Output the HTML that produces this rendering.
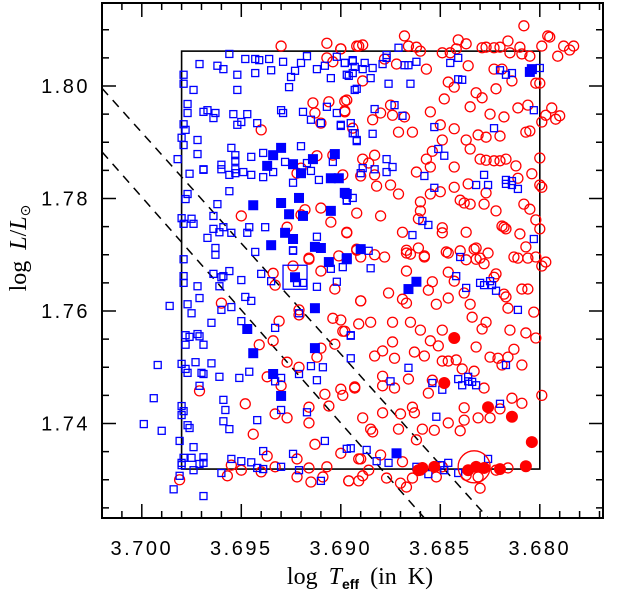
<!DOCTYPE html>
<html><head><meta charset="utf-8"><style>
html,body{margin:0;padding:0;background:#fff;}
svg{display:block;}
</style></head><body>
<svg id="chart" width="622" height="590" viewBox="0 0 622 590" xmlns="http://www.w3.org/2000/svg">
<g id="marks"></g>
<g id="axes"></g>
<text x="360" y="584" text-anchor="middle" font-family="'Liberation Serif', serif" font-size="24" word-spacing="5">log <tspan font-style="italic">T</tspan><tspan font-family="'Liberation Sans', sans-serif" font-weight="bold" font-size="14" dy="5">eff</tspan><tspan dy="-5"> (in K)</tspan></text>
<text transform="translate(26,248) rotate(-90)" text-anchor="middle" font-family="'Liberation Serif', serif" font-size="24" word-spacing="5">log <tspan font-style="italic">L</tspan>/<tspan font-style="italic">L</tspan><tspan font-size="14" dy="4">⊙</tspan></text>
</svg>
<script>
const xTicksMajor = [3.700, 3.695, 3.690, 3.685, 3.680];
const xTickLabels = ["3.700","3.695","3.690","3.685","3.680"];
const yTicksMajor = [1.80, 1.78, 1.76, 1.74];
const yTickLabels = ["1.80","1.78","1.76","1.74"];
const boxT = [3.6980, 3.6800];
const boxL = [1.7319, 1.8062];
const dashA = [[3.702, 1.7996],[3.6826, 1.7232]];
const dashB = [[3.702, 1.7883],[3.6858, 1.7232]];
const bigSquare = [3.6923, 1.7660];
const bigCircle = [3.6833, 1.7323];

const openBlue = [
[3.6956,1.8057],[3.6971,1.8039],[3.6962,1.8036],[3.6959,1.8030],[3.6948,1.8048],[3.6943,1.8048],[3.6941,1.8046],[3.6936,1.8048],[3.6935,1.8028],[3.6943,1.8023],
[3.6929,1.8043],[3.6923,1.8027],[3.6920,1.8041],[3.6917,1.8053],[3.6912,1.8030],[3.6908,1.8036],[3.6905,1.8014],[3.6902,1.8052],[3.6898,1.8041],[3.6897,1.8020],
[3.6894,1.8046],[3.6979,1.8020],[3.6979,1.8004],[3.6974,1.7993],[3.6952,1.8020],[3.6952,1.7993],[3.6926,1.7998],[3.6925,1.8016],[3.6893,1.7993],[3.6977,1.7968],
[3.6977,1.7952],[3.6969,1.7954],[3.6967,1.7957],[3.6963,1.7952],[3.6964,1.7943],[3.6954,1.7950],[3.6950,1.7936],[3.6952,1.7931],[3.6947,1.7950],[3.6942,1.7934],
[3.6930,1.7957],[3.6929,1.7952],[3.6919,1.7954],[3.6915,1.7940],[3.6910,1.7934],[3.6907,1.7963],[3.6902,1.7952],[3.6900,1.7929],[3.6893,1.7916],[3.6892,1.7902],
[3.6979,1.7932],[3.6978,1.7922],[3.6980,1.7908],[3.6979,1.7895],[3.6972,1.7904],[3.6982,1.7870],[3.6972,1.7879],[3.6955,1.7890],[3.6953,1.7877],[3.6953,1.7867],
[3.6960,1.7860],[3.6960,1.7852],[3.6953,1.7852],[3.6953,1.7845],[3.6945,1.7874],[3.6939,1.7881],[3.6928,1.7865],[3.6920,1.7893],[3.6917,1.7863],[3.6915,1.7849],
[3.6904,1.7865],[3.6969,1.7852],[3.6969,1.7851],[3.6976,1.7844],[3.6956,1.7842],[3.6949,1.7847],[3.6945,1.7842],[3.6939,1.7838],[3.6934,1.7847],[3.6924,1.7828],
[3.6911,1.7833],[3.6956,1.7813],[3.6977,1.7808],[3.6978,1.7799],[3.6962,1.7790],[3.6980,1.7765],[3.6975,1.7764],[3.6979,1.7755],[3.6974,1.7755],[3.6964,1.7769],
[3.6964,1.7746],[3.6961,1.7740],[3.6967,1.7730],[3.6959,1.7749],[3.6955,1.7739],[3.6947,1.7739],[3.6946,1.7749],[3.6938,1.7749],[3.6912,1.7732],[3.6924,1.7708],
[3.6943,1.7705],[3.6963,1.7712],[3.6963,1.7700],[3.6897,1.7797],
[3.6871,1.8068],[3.6877,1.8055],[3.6877,1.8050],[3.6898,1.8041],[3.6894,1.8044],[3.6888,1.8041],[3.6893,1.8034],[3.6889,1.8030],[3.6884,1.8032],[3.6879,1.8039],
[3.6868,1.8037],[3.6866,1.8037],[3.6862,1.8043],[3.6845,1.8041],[3.6841,1.8050],[3.6896,1.8018],[3.6894,1.8023],[3.6885,1.8014],[3.6876,1.8004],[3.6865,1.8004],
[3.6892,1.7995],[3.6841,1.8012],[3.6839,1.8011],[3.6820,1.8028],[3.6817,1.8020],[3.6814,1.8023],[3.6800,1.8032],[3.6883,1.7959],[3.6873,1.7966],[3.6869,1.7947],
[3.6895,1.7934],[3.6900,1.7931],[3.6894,1.7916],[3.6892,1.7904],[3.6884,1.7915],[3.6853,1.7927],[3.6823,1.7925],[3.6803,1.7957],[3.6851,1.7888],[3.6848,1.7876],
[3.6877,1.7870],[3.6874,1.7856],[3.6889,1.7854],[3.6883,1.7852],[3.6877,1.7847],[3.6890,1.7845],[3.6858,1.7840],[3.6828,1.7842],[3.6832,1.7824],[3.6826,1.7824],
[3.6817,1.7833],[3.6817,1.7826],[3.6814,1.7831],[3.6814,1.7824],[3.6811,1.7817],[3.6853,1.7819],[3.6897,1.7796],[3.6894,1.7801],[3.6859,1.7760],[3.6856,1.7753],
[3.6864,1.7735],[3.6803,1.7728],[3.6886,1.7707],[3.6840,1.7696],
[3.6924,1.7707],[3.6979,1.7692],[3.6979,1.7662],[3.6979,1.7650],[3.6964,1.7666],[3.6960,1.7660],[3.6959,1.7662],[3.6956,1.7671],[3.6961,1.7644],[3.6950,1.7655],
[3.6940,1.7666],[3.6935,1.7653],[3.6922,1.7650],[3.6919,1.7650],[3.6912,1.7643],[3.6905,1.7675],[3.6902,1.7652],[3.6899,1.7678],[3.6972,1.7644],[3.6977,1.7612],
[3.6975,1.7596],[3.6971,1.7623],[3.6986,1.7609],[3.6960,1.7602],[3.6955,1.7607],[3.6948,1.7625],[3.6945,1.7618],[3.6965,1.7579],[3.6950,1.7582],[3.6933,1.7570],
[3.6921,1.7596],[3.6978,1.7557],[3.6976,1.7554],[3.6972,1.7559],[3.6971,1.7555],[3.6978,1.7540],[3.6969,1.7540],[3.6895,1.7557],[3.6895,1.7516],[3.6992,1.7504],
[3.6980,1.7506],[3.6978,1.7497],[3.6977,1.7490],[3.6973,1.7509],[3.6970,1.7490],[3.6969,1.7488],[3.6965,1.7507],[3.6961,1.7483],[3.6951,1.7481],[3.6946,1.7492],
[3.6933,1.7475],[3.6930,1.7481],[3.6921,1.7488],[3.6915,1.7502],[3.6909,1.7500],[3.6912,1.7477],[3.6971,1.7467],[3.6994,1.7445],[3.6959,1.7442],[3.6958,1.7424],
[3.6959,1.7404],[3.6956,1.7390],[3.6942,1.7406],[3.6930,1.7424],[3.6917,1.7420],[3.6980,1.7431],[3.6979,1.7422],[3.6980,1.7415],[3.6977,1.7397],[3.6976,1.7392],
[3.6999,1.7399],[3.6990,1.7387],[3.6981,1.7369],[3.6974,1.7358],[3.6908,1.7369],[3.6897,1.7355],[3.6895,1.7356],[3.6939,1.7351],[3.6924,1.7346],[3.6979,1.7339],
[3.6975,1.7339],[3.6969,1.7340],[3.6969,1.7330],[3.6971,1.7328],[3.6980,1.7330],[3.6955,1.7337],[3.6950,1.7333],[3.6945,1.7331],[3.6980,1.7326],[3.6974,1.7317],
[3.6942,1.7321],[3.6939,1.7319],[3.6930,1.7323],[3.6921,1.7317],[3.6960,1.7312],[3.6981,1.7307],[3.6984,1.7283],[3.6969,1.7271],[3.6910,1.7298],
[3.6885,1.7676],[3.6842,1.7662],[3.6837,1.7641],[3.6830,1.7650],[3.6828,1.7646],[3.6825,1.7653],[3.6824,1.7646],[3.6822,1.7636],[3.6811,1.7602],[3.6895,1.7556],
[3.6866,1.7499],[3.6875,1.7475],[3.6854,1.7472],[3.6849,1.7460],[3.6841,1.7479],[3.6836,1.7483],[3.6836,1.7475],[3.6839,1.7468],[3.6834,1.7474],[3.6832,1.7468],
[3.6817,1.7504],[3.6820,1.7435],[3.6852,1.7412],[3.6887,1.7353],[3.6882,1.7333],[3.6876,1.7330],[3.6862,1.7323],[3.6856,1.7310],[3.6850,1.7326],[3.6846,1.7330],
[3.6848,1.7317],[3.6841,1.7312],[3.6826,1.7337]
];
const filledBlue = [
[3.6930,1.7890],[3.6934,1.7877],[3.6937,1.7858],[3.6924,1.7861],[3.6920,1.7845],[3.6914,1.7870],[3.6903,1.7879],[3.6905,1.7836],[3.6901,1.7836],[3.6897,1.7808],
[3.6921,1.7801],[3.6930,1.7792],[3.6944,1.7788],[3.6926,1.7772],[3.6919,1.7769],[3.6905,1.7778],[3.6928,1.7739],[3.6924,1.7728],[3.6935,1.7717],[3.6913,1.7714],
[3.6910,1.7712],[3.6897,1.7694],[3.6804,1.8030],[3.6805,1.8025],[3.6898,1.7810],[3.6890,1.7710],[3.6923,1.7660],[3.6906,1.7687],[3.6897,1.7692],[3.6913,1.7605],
[3.6947,1.7568],[3.6913,1.7534],[3.6944,1.7525],[3.6934,1.7488],[3.6930,1.7449],[3.6866,1.7639],[3.6862,1.7652],[3.6872,1.7347]
];
const openRed = [
[3.6930,1.8071],[3.6907,1.8076],[3.6900,1.8066],[3.6892,1.8071],[3.6904,1.8043],[3.6907,1.8050],[3.6914,1.7970],[3.6906,1.7972],[3.6898,1.7973],[3.6898,1.7954],
[3.6913,1.7952],[3.6910,1.7934],[3.6894,1.7925],[3.6940,1.7922],[3.6912,1.7876],[3.6904,1.7877],[3.6922,1.7845],[3.6920,1.7854],[3.6899,1.7842],[3.6918,1.7780],
[3.6920,1.7771],[3.6910,1.7783],[3.6905,1.7758],[3.6892,1.7774],[3.6950,1.7769],[3.6927,1.7749],[3.6897,1.7739],[3.6916,1.7694],[3.6901,1.7698],[3.6892,1.7708],
[3.6808,1.8107],[3.6868,1.8089],[3.6796,1.8089],[3.6795,1.8087],[3.6841,1.8082],[3.6837,1.8075],[3.6816,1.8080],[3.6866,1.8071],[3.6862,1.8069],[3.6860,1.8062],
[3.6891,1.8071],[3.6889,1.8073],[3.6900,1.8066],[3.6842,1.8066],[3.6849,1.8059],[3.6845,1.8059],[3.6829,1.8068],[3.6827,1.8069],[3.6823,1.8068],[3.6820,1.8069],
[3.6815,1.8059],[3.6810,1.8069],[3.6809,1.8057],[3.6799,1.8071],[3.6788,1.8071],[3.6785,1.8064],[3.6783,1.8071],[3.6791,1.8053],[3.6805,1.8053],[3.6878,1.8048],
[3.6872,1.8039],[3.6857,1.8030],[3.6836,1.8036],[3.6823,1.8030],[3.6819,1.8030],[3.6814,1.8009],[3.6802,1.8005],[3.6800,1.8005],[3.6889,1.8009],[3.6846,1.8007],
[3.6843,1.7998],[3.6822,1.7995],[3.6897,1.7975],[3.6848,1.7977],[3.6832,1.7988],[3.6829,1.7979],[3.6875,1.7966],[3.6880,1.7952],[3.6874,1.7948],[3.6868,1.7945],
[3.6898,1.7956],[3.6855,1.7954],[3.6835,1.7963],[3.6825,1.7950],[3.6818,1.7945],[3.6811,1.7961],[3.6806,1.7966],[3.6794,1.7961],[3.6797,1.7948],[3.6792,1.7941],
[3.6790,1.7947],[3.6799,1.7936],[3.6884,1.7940],[3.6850,1.7931],[3.6843,1.7924],[3.6871,1.7918],[3.6864,1.7918],[3.6849,1.7904],[3.6837,1.7904],[3.6831,1.7913],
[3.6827,1.7909],[3.6820,1.7911],[3.6807,1.7918],[3.6805,1.7920],[3.6835,1.7888],[3.6854,1.7884],[3.6883,1.7877],[3.6889,1.7870],[3.6886,1.7863],[3.6857,1.7870],
[3.6855,1.7856],[3.6843,1.7856],[3.6830,1.7870],[3.6827,1.7868],[3.6823,1.7867],[3.6820,1.7867],[3.6817,1.7870],[3.6812,1.7858],[3.6800,1.7872],[3.6804,1.7844],
[3.6800,1.7824],[3.6799,1.7820],[3.6811,1.7836],[3.6862,1.7847],[3.6883,1.7842],[3.6890,1.7840],[3.6882,1.7822],[3.6875,1.7824],[3.6871,1.7808],[3.6855,1.7808],
[3.6850,1.7812],[3.6843,1.7820],[3.6836,1.7826],[3.6827,1.7810],[3.6840,1.7797],[3.6838,1.7792],[3.6835,1.7790],[3.6828,1.7790],[3.6822,1.7778],[3.6808,1.7790],
[3.6805,1.7781],[3.6860,1.7794],[3.6860,1.7778],[3.6861,1.7764],[3.6880,1.7769],[3.6897,1.7740],[3.6869,1.7740],[3.6849,1.7748],[3.6849,1.7739],[3.6837,1.7740],
[3.6819,1.7751],[3.6818,1.7749],[3.6817,1.7746],[3.6810,1.7737],[3.6802,1.7762],[3.6800,1.7746],[3.6807,1.7714],[3.6892,1.7710],[3.6883,1.7700],[3.6878,1.7696],
[3.6867,1.7708],[3.6861,1.7712],[3.6858,1.7698],[3.6847,1.7705],[3.6840,1.7707],[3.6833,1.7710],[3.6832,1.7712],[3.6830,1.7694],[3.6826,1.7703],[3.6813,1.7696],
[3.6802,1.7696],
[3.6924,1.7680],[3.6934,1.7667],[3.6933,1.7646],[3.6916,1.7692],[3.6910,1.7671],[3.6903,1.7639],[3.6960,1.7614],[3.6921,1.7602],[3.6921,1.7593],[3.6931,1.7582],
[3.6904,1.7587],[3.6900,1.7584],[3.6899,1.7564],[3.6891,1.7577],[3.6890,1.7618],[3.6934,1.7547],[3.6941,1.7540],[3.6927,1.7509],[3.6921,1.7500],[3.6910,1.7534],
[3.6912,1.7518],[3.6903,1.7541],[3.6937,1.7483],[3.6930,1.7467],[3.6908,1.7452],[3.6899,1.7450],[3.6900,1.7461],[3.6893,1.7463],[3.6971,1.7458],[3.6948,1.7435],
[3.6933,1.7417],[3.6927,1.7410],[3.6916,1.7429],[3.6916,1.7401],[3.6906,1.7431],[3.6944,1.7381],[3.6913,1.7363],[3.6900,1.7347],[3.6891,1.7337],[3.6937,1.7342],
[3.6922,1.7337],[3.6955,1.7326],[3.6950,1.7317],[3.6940,1.7314],[3.6933,1.7323],[3.6916,1.7321],[3.6907,1.7323],[3.6957,1.7307],[3.6922,1.7305],[3.6915,1.7296],
[3.6909,1.7305],[3.6896,1.7298],[3.6891,1.7298],[3.6981,1.7300],
[3.6867,1.7703],[3.6865,1.7701],[3.6858,1.7696],[3.6846,1.7703],[3.6837,1.7691],[3.6832,1.7692],[3.6828,1.7684],[3.6811,1.7694],[3.6806,1.7694],[3.6799,1.7680],
[3.6797,1.7687],[3.6890,1.7696],[3.6867,1.7671],[3.6854,1.7652],[3.6856,1.7637],[3.6846,1.7669],[3.6843,1.7653],[3.6838,1.7632],[3.6822,1.7666],[3.6823,1.7660],
[3.6818,1.7630],[3.6817,1.7625],[3.6809,1.7639],[3.6806,1.7639],[3.6803,1.7598],[3.6876,1.7632],[3.6869,1.7621],[3.6867,1.7614],[3.6852,1.7612],[3.6846,1.7623],
[3.6835,1.7612],[3.6816,1.7605],[3.6890,1.7618],[3.6898,1.7564],[3.6885,1.7580],[3.6874,1.7580],[3.6865,1.7580],[3.6860,1.7566],[3.6849,1.7566],[3.6834,1.7589],
[3.6827,1.7580],[3.6829,1.7568],[3.6815,1.7566],[3.6807,1.7561],[3.6802,1.7552],[3.6874,1.7545],[3.6879,1.7529],[3.6883,1.7520],[3.6873,1.7516],[3.6863,1.7527],
[3.6858,1.7520],[3.6855,1.7547],[3.6851,1.7538],[3.6849,1.7511],[3.6846,1.7511],[3.6842,1.7513],[3.6832,1.7536],[3.6825,1.7518],[3.6821,1.7516],[3.6816,1.7518],
[3.6813,1.7532],[3.6809,1.7504],[3.6819,1.7504],[3.6839,1.7497],[3.6833,1.7493],[3.6879,1.7484],[3.6866,1.7479],[3.6879,1.7467],[3.6873,1.7463],[3.6854,1.7477],
[3.6893,1.7465],[3.6856,1.7454],[3.6828,1.7463],[3.6814,1.7445],[3.6809,1.7436],[3.6799,1.7450],[3.6864,1.7429],[3.6863,1.7419],[3.6879,1.7419],[3.6870,1.7417],
[3.6889,1.7410],[3.6838,1.7428],[3.6831,1.7410],[3.6825,1.7410],[3.6820,1.7426],[3.6846,1.7401],[3.6853,1.7388],[3.6859,1.7390],[3.6871,1.7390],[3.6885,1.7390],
[3.6884,1.7385],[3.6840,1.7387],[3.6838,1.7406],[3.6862,1.7371],[3.6880,1.7344],[3.6890,1.7337],[3.6869,1.7332],[3.6886,1.7317],[3.6896,1.7298],[3.6889,1.7307],
[3.6877,1.7303],[3.6870,1.7294],[3.6867,1.7287],[3.6864,1.7303],[3.6860,1.7317],[3.6852,1.7305],[3.6849,1.7323],[3.6837,1.7308],[3.6830,1.7285],[3.6831,1.7305],
[3.6816,1.7321],[3.6822,1.7317]
];
const filledRed = [
[3.6843,1.7552],[3.6848,1.7472],[3.6826,1.7429],[3.6814,1.7412],[3.6804,1.7367],[3.6807,1.7324],[3.6820,1.7319],[3.6853,1.7323],[3.6836,1.7317],[3.6832,1.7323],
[3.6828,1.7321],[3.6859,1.7321],[3.6861,1.7317]
];

const NS = "http://www.w3.org/2000/svg";
const X0 = 102, X1 = 603, Y0 = 3, Y1 = 518;
function xScale(t){ return 102 + (3.702 - t) / 0.001 * 19.9; }
function yScale(l){ return 86 + (1.80 - l) * 5625; }
function mk(tag, attrs, parent){
  const e = document.createElementNS(NS, tag);
  for (const k in attrs) e.setAttribute(k, attrs[k]);
  parent.appendChild(e);
  return e;
}
const marks = document.getElementById('marks');
const axes = document.getElementById('axes');

const defs = mk('defs', {}, marks);
const cp = mk('clipPath', {id:'plotclip'}, defs);
mk('rect', {x:X0, y:Y0, width:X1-X0, height:Y1-Y0}, cp);
const g = mk('g', {'clip-path':'url(#plotclip)'}, marks);

[dashA, dashB].forEach(function(d, i){
  const l = mk('line', {x1:xScale(d[0][0]), y1:yScale(d[0][1]), x2:xScale(d[1][0]), y2:yScale(d[1][1]), stroke:'#000', 'stroke-width':1.5, 'stroke-dasharray':'9,7'}, g);
  
  
});

const bx = mk('rect', {x:xScale(boxT[0]), y:yScale(boxL[1]), width:xScale(boxT[1]) - xScale(boxT[0]), height:yScale(boxL[0]) - yScale(boxL[1]), fill:'none', stroke:'#000', 'stroke-width':1.6}, g);



openRed.forEach(function(p){
  const c = mk('circle', {cx:xScale(p[0]), cy:yScale(p[1]), r:5, fill:'none', stroke:'#ff0000', 'stroke-width':1.3}, g);
  
  
});
openBlue.forEach(function(p){
  const s = mk('rect', {x:xScale(p[0]) - 3.5, y:yScale(p[1]) - 3.5, width:7, height:7, fill:'none', stroke:'#0000ff', 'stroke-width':1.3}, g);
  
  
});
filledBlue.forEach(function(p){
  const s = mk('rect', {x:xScale(p[0]) - 5, y:yScale(p[1]) - 5, width:10, height:10, fill:'#0000ff'}, g);
  
  
});
filledRed.forEach(function(p){
  const c = mk('circle', {cx:xScale(p[0]), cy:yScale(p[1]), r:6, fill:'#ff0000'}, g);
  
  
});
const bs = mk('rect', {x:xScale(bigSquare[0]) - 12, y:yScale(bigSquare[1]) - 12, width:24, height:24, fill:'none', stroke:'#0000ff', 'stroke-width':1.3}, g);


const bc = mk('circle', {cx:xScale(bigCircle[0]), cy:yScale(bigCircle[1]), r:16, fill:'none', stroke:'#ff0000', 'stroke-width':1.3}, g);



const fr = mk('rect', {x:X0, y:Y0, width:X1-X0, height:Y1-Y0, fill:'none', stroke:'#000', 'stroke-width':2}, axes);



for (let k = 0; k <= 25; k++){
  const t = 3.702 - k * 0.001;
  const x = xScale(t);
  if (x < X0 - 0.5 || x > X1 + 0.5) continue;
  const major = Math.abs(Math.round(t * 1000) % 5) === 0;
  const len = major ? 14 : 7;
  mk('line', {x1:x, y1:Y1, x2:x, y2:Y1 - len, stroke:'#000', 'stroke-width':1.5}, axes);
  mk('line', {x1:x, y1:Y0, x2:x, y2:Y0 + len, stroke:'#000', 'stroke-width':1.5}, axes);
}
xTicksMajor.forEach(function(t, i){
  const tx = mk('text', {x:xScale(t), y:555, 'text-anchor':'middle', 'font-family':'"Liberation Sans", sans-serif', 'font-size':20, 'letter-spacing':2.5}, axes);
  tx.textContent = xTickLabels[i];
  
  
});
for (let k = -3; k <= 16; k++){
  const l = 1.80 - k * 0.005;
  const y = yScale(l);
  if (y < Y0 - 0.5 || y > Y1 + 0.5) continue;
  const major = (k % 4 === 0);
  const len = major ? 14 : 7;
  mk('line', {x1:X0, y1:y, x2:X0 + len, y2:y, stroke:'#000', 'stroke-width':1.5}, axes);
  mk('line', {x1:X1, y1:y, x2:X1 - len, y2:y, stroke:'#000', 'stroke-width':1.5}, axes);
}
yTicksMajor.forEach(function(l, i){
  const tx = mk('text', {x:90, y:yScale(l) + 7, 'text-anchor':'end', 'font-family':'"Liberation Sans", sans-serif', 'font-size':20, 'letter-spacing':2.5}, axes);
  tx.textContent = yTickLabels[i];
  
  
});
</script>
</body></html>
